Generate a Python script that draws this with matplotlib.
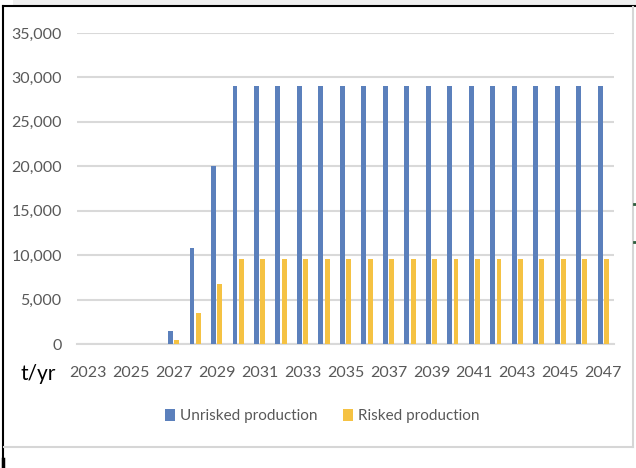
import matplotlib
matplotlib.use("Agg")
import matplotlib.pyplot as plt
from matplotlib.lines import Line2D
from matplotlib.patches import Rectangle
import numpy as np

plt.rcParams['font.family'] = ['Lato', 'DejaVu Sans']

years = list(range(2023, 2048))
unrisked = [0, 0, 0, 0, 1500, 10850, 20000] + [29000] * 18
risked = [0, 0, 0, 0, 450, 3500, 6700] + [9600] * 18
tick_years = years[::2]

blue = '#5B80BC'
gold = '#F5C243'
grid_c = '#D9D9D9'
text_c = '#595959'

W, H = 636, 468
fig = plt.figure(figsize=(W / 100, H / 100), dpi=100)

# frame decorations around the chart
fig.add_artist(Rectangle((13 / W, 1 - 4.5 / H), 1, 4.5 / H, transform=fig.transFigure,
                         facecolor='#EFEFEF', edgecolor='none'))
fig.add_artist(Line2D([3.5 / W, 1], [1 - 5.5 / H, 1 - 5.5 / H], transform=fig.transFigure,
                      color='black', lw=1.5))
fig.add_artist(Line2D([3.5 / W, 3.5 / W], [0, 1 - 5.5 / H], transform=fig.transFigure,
                      color='black', lw=1.5))
fig.add_artist(Line2D([3.5 / W, 3.5 / W], [0, 9 / H], transform=fig.transFigure,
                      color='black', lw=2.5))
fig.add_artist(Line2D([633 / W, 633 / W], [1 - 447 / H, 1 - 7 / H], transform=fig.transFigure,
                      color='#D6D6D6', lw=1.5))
fig.add_artist(Line2D([4 / W, 633 / W], [1 - 447 / H, 1 - 447 / H], transform=fig.transFigure,
                      color='#D6D6D6', lw=1.5))
for yy in (204, 242):
    fig.add_artist(Line2D([634 / W, 636 / W], [1 - yy / H, 1 - yy / H], transform=fig.transFigure,
                          color='#2E5E3E', lw=2))

ax = fig.add_axes([77 / W, 1 - 344 / H, 537 / W, 311 / H])
x = np.arange(len(years))
bw = 0.23
off = 0.145
ax.bar(x - off, unrisked, width=bw, color=blue, label='Unrisked production', zorder=3)
ax.bar(x + off, risked, width=bw, color=gold, label='Risked production', zorder=3)

ax.set_xlim(-0.5, len(years) - 0.5)
ax.set_ylim(0, 35000)
ax.set_yticks(range(0, 35001, 5000))
ax.set_yticklabels([f'{v:,}' for v in range(0, 35001, 5000)])
ax.set_xticks([years.index(y) for y in tick_years])
ax.set_xticklabels([str(y) for y in tick_years])
ax.grid(axis='y', color=grid_c, lw=1.5, zorder=0)
for s in ('top', 'right', 'left'):
    ax.spines[s].set_visible(False)
ax.spines['bottom'].set_color(grid_c)
ax.spines['bottom'].set_linewidth(1.5)
ax.tick_params(axis='both', length=0, colors=text_c, labelsize=11.5)
ax.tick_params(axis='y', pad=11)
ax.tick_params(axis='x', pad=16)

fig.text(38 / W, 1 - 374 / H, 't/yr', fontsize=15, color='black', ha='center', va='center')

leg = fig.legend(loc='center', bbox_to_anchor=(322 / W, 1 - 416 / H), ncol=2, frameon=False,
                 fontsize=11, handlelength=0.65, handleheight=0.85, handletextpad=0.3,
                 columnspacing=1.7, labelcolor=text_c)

fig.savefig('out.png', dpi=100)
